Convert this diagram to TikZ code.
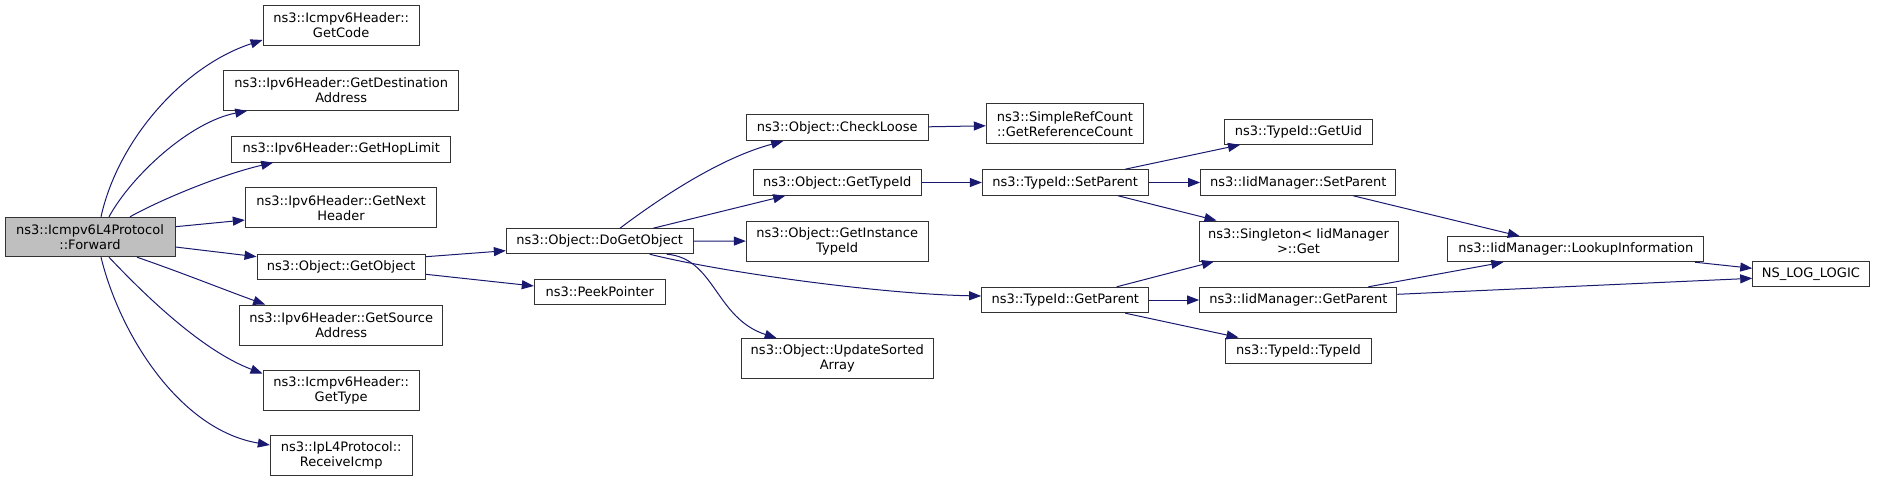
\documentclass[tikz,border=0pt]{standalone}
\usepackage{fontspec}
\setmainfont{DejaVu Sans}
\usetikzlibrary{arrows.meta}
\definecolor{navy}{HTML}{191970}
\begin{document}
\begin{tikzpicture}[x=1pt,y=-1pt,
  box/.style={draw=black!80, line width=1pt, inner sep=0pt, align=center, fill=white,
    font=\fontsize{13}{15}\selectfont},
  conn/.style={draw=navy, line width=1pt, -{Triangle[length=12pt,width=9pt]}}]
\useasboundingbox (0,0) rectangle (1880,483);
% column 0
\node[box, fill=black!25, minimum width=170, minimum height=39.4] (fwd) at (90,237) {ns3::Icmpv6L4Protocol\\::Forward};
% column 1
\node[box, minimum width=156.3, minimum height=40] (code) at (341.2,25) {ns3::Icmpv6Header::\\GetCode};
\node[box, minimum width=235, minimum height=39.6] (dest) at (341.2,90.5) {ns3::Ipv6Header::GetDestination\\Address};
\node[box, minimum width=219, minimum height=25.7] (hop) at (341.2,149.2) {ns3::Ipv6Header::GetHopLimit};
\node[box, minimum width=191.4, minimum height=40.3] (next) at (341,207.8) {ns3::Ipv6Header::GetNext\\Header};
\node[box, minimum width=168.3, minimum height=25.3] (getobj) at (341.2,266.7) {ns3::Object::GetObject};
\node[box, minimum width=203, minimum height=40.3] (src) at (341.2,325.2) {ns3::Ipv6Header::GetSource\\Address};
\node[box, minimum width=156.3, minimum height=40.4] (type) at (341.2,390.5) {ns3::Icmpv6Header::\\GetType};
\node[box, minimum width=141.7, minimum height=40] (recv) at (341.2,455.7) {ns3::IpL4Protocol::\\ReceiveIcmp};
% column 2
\node[box, minimum width=186.7, minimum height=25] (dogo) at (599.7,241.2) {ns3::Object::DoGetObject};
\node[box, minimum width=131, minimum height=25.3] (peek) at (599.8,291.7) {ns3::PeekPointer};
% column 3
\node[box, minimum width=181.7, minimum height=25.7] (check) at (837.2,127.8) {ns3::Object::CheckLoose};
\node[box, minimum width=168.3, minimum height=25.6] (gettid) at (837.2,182.5) {ns3::Object::GetTypeId};
\node[box, minimum width=181.7, minimum height=40] (inst) at (837.2,241) {ns3::Object::GetInstance\\TypeId};
\node[box, minimum width=192, minimum height=39.6] (upd) at (837.3,358.5) {ns3::Object::UpdateSorted\\Array};
% column 4
\node[box, minimum width=157.4, minimum height=39.7] (srefc) at (1065,123.8) {ns3::SimpleRefCount\\::GetReferenceCount};
\node[box, minimum width=165.7, minimum height=25.6] (setpar) at (1065.2,182.5) {ns3::TypeId::SetParent};
\node[box, minimum width=167.3, minimum height=25.4] (getpar) at (1065.3,300) {ns3::TypeId::GetParent};
% column 5
\node[box, minimum width=148.4, minimum height=25.3] (getuid) at (1298.5,131.7) {ns3::TypeId::GetUid};
\node[box, minimum width=195.3, minimum height=25.6] (iidset) at (1298.3,182.5) {ns3::IidManager::SetParent};
\node[box, minimum width=199, minimum height=40] (single) at (1298.5,241) {ns3::Singleton< IidManager\\>::Get};
\node[box, minimum width=197.3, minimum height=25.4] (iidget) at (1298.3,300) {ns3::IidManager::GetParent};
\node[box, minimum width=145.6, minimum height=25] (tidtid) at (1298.5,350.5) {ns3::TypeId::TypeId};
% column 6
\node[box, minimum width=256.3, minimum height=25] (lookup) at (1575.8,249.2) {ns3::IidManager::LookupInformation};
% column 7
\node[box, minimum width=116.3, minimum height=25.3] (nslog) at (1810.9,274.3) {NS\_LOG\_LOGIC};

% edges from Forward
\draw[conn] ([xshift=11pt]fwd.north) .. controls (118,140) and (183,66) .. ([yshift=-15pt]code.west);
\draw[conn] ([xshift=19pt]fwd.north) .. controls (132,175) and (190,122) .. ([xshift=-94pt]dest.south);
\draw[conn] ([xshift=40pt]fwd.north) .. controls (160,200) and (220,175) .. ([xshift=-68pt]hop.south);
\draw[conn] ([yshift=10.3pt]fwd.east) -- ([yshift=-12.2pt]next.west);
\draw[conn] ([yshift=-10pt]fwd.east) -- ([yshift=10pt]getobj.west);
\draw[conn] ([xshift=47pt]fwd.south) .. controls (180,272) and (225,290) .. ([xshift=-76pt]src.north);
\draw[conn] ([xshift=19pt]fwd.south) .. controls (140,290) and (200,350) .. ([yshift=17pt]type.west);
\draw[conn] ([xshift=11pt]fwd.south) .. controls (120,335) and (180,430) .. ([yshift=10.7pt]recv.west);
% GetObject
\draw[conn] ([yshift=10pt]getobj.east) -- ([yshift=-9.5pt]dogo.west);
\draw[conn] ([yshift=-7.6pt]getobj.east) -- ([yshift=5.7pt]peek.west);
% DoGetObject
\draw[conn] ([xshift=20.3pt]dogo.north) .. controls (660,198) and (720,158) .. ([xshift=-54pt]check.south);
\draw[conn] ([xshift=53.6pt]dogo.north) -- ([xshift=-52pt]gettid.south);
\draw[conn] (dogo) -- (inst);
\draw[conn] ([xshift=50pt]dogo.south) .. controls (720,272) and (880,294) .. ([yshift=4pt]getpar.west);
\draw[conn] ([xshift=67pt]dogo.south) .. controls (715,258) and (715,318) .. ([xshift=-60.6pt]upd.north);
% column 3 -> 4
\draw[conn] ([yshift=1pt]check.east) -- ([yshift=-2pt]srefc.west);
\draw[conn] (gettid) -- (setpar);
% SetParent
\draw[conn] ([xshift=60pt]setpar.north) -- ([xshift=-58.5pt]getuid.south);
\draw[conn] (setpar) -- (iidset);
\draw[conn] ([xshift=53pt]setpar.south) -- ([xshift=-82pt]single.north);
\draw[conn] ([xshift=55pt]iidset.south) -- ([xshift=-56pt]lookup.north);
% GetParent
\draw[conn] ([xshift=51.4pt]getpar.north) -- ([xshift=-84.5pt]single.south);
\draw[conn] (getpar) -- (iidget);
\draw[conn] ([xshift=60pt]getpar.south) -- ([xshift=-60pt]tidtid.north);
\draw[conn] ([xshift=70pt]iidget.north) -- ([xshift=-72.5pt]lookup.south);
\draw[conn] ([yshift=5.7pt]iidget.east) -- ([yshift=-4pt]nslog.west);
\draw[conn] ([xshift=119pt]lookup.south) -- ([yshift=6pt]nslog.west);
\end{tikzpicture}
\end{document}
